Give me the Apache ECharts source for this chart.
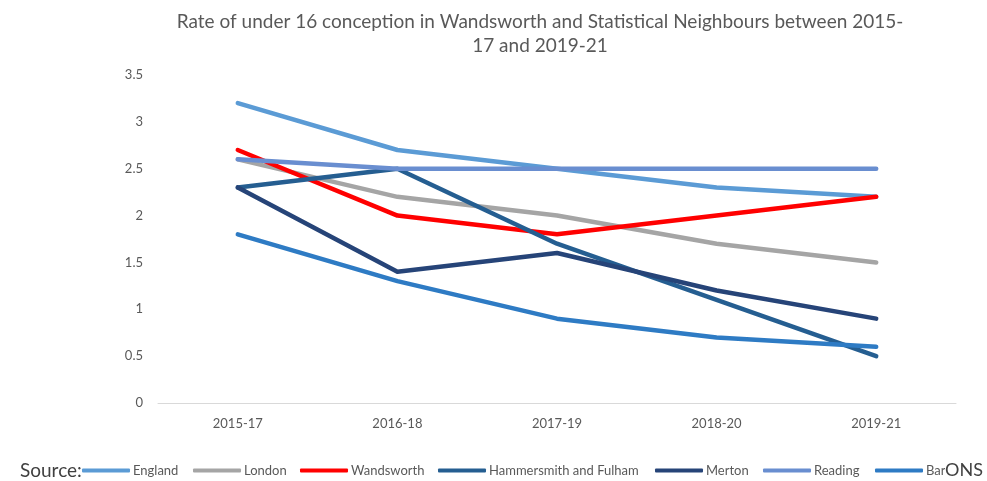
<!DOCTYPE html>
<html><head><meta charset="utf-8">
<script src="https://cdn.jsdelivr.net/npm/echarts@6/dist/echarts.min.js"></script>
<style>html,body{margin:0;padding:0;background:#fff}#c{width:987px;height:481px}</style>
</head><body><div id="c"></div>
<script>
const categories = ['2015-17','2016-18','2017-19','2018-20','2019-21'];
const england = [3.2, 2.7, 2.5, 2.3, 2.2];
const london = [2.6, 2.2, 2.0, 1.7, 1.5];
const wandsworth = [2.7, 2.0, 1.8, 2.0, 2.2];
const hammersmith = [2.3, 2.5, 1.7, 1.1, 0.5];
const merton = [2.3, 1.4, 1.6, 1.2, 0.9];
const reading = [2.6, 2.5, 2.5, 2.5, 2.5];
const barnet = [1.8, 1.3, 0.9, 0.7, 0.6];
const seriesNames = ['England','London','Wandsworth','Hammersmith and Fulham','Merton','Reading','Barnet'];
const yTicks = [0, 0.5, 1, 1.5, 2, 2.5, 3, 3.5];

const font = 'Lato, "Open Sans", sans-serif';
const legendLeft = [82, 193, 300, 438, 655, 763, 875];
const mk = (name, data, color) => ({
  name, type: 'line', data, symbol: 'none', smooth: false,
  lineStyle: { width: 4.5, color, cap: 'round', join: 'round' },
  itemStyle: { color }
});
const chart = echarts.init(document.getElementById('c'));
chart.setOption({
  animation: false,
  title: {
    text: 'Rate of under 16 conception in Wandsworth and Statistical Neighbours between 2015-\n17 and 2019-21',
    left: 535, textAlign: 'center', top: 5,
    textStyle: { fontFamily: font, fontSize: 19, fontWeight: 'normal', color: '#595959', lineHeight: 24 }
  },
  grid: { left: 158, right: 31, top: 75, bottom: 78, containLabel: false },
  xAxis: {
    type: 'category', data: categories, boundaryGap: true,
    axisLine: { lineStyle: { color: '#D9D9D9', width: 1 } },
    axisTick: { show: false },
    axisLabel: { color: '#595959', fontFamily: font, fontSize: 13, margin: 14 }
  },
  yAxis: {
    type: 'value', min: 0, max: 3.5, interval: 0.5,
    axisLine: { show: false }, axisTick: { show: false },
    splitLine: { show: false },
    axisLabel: { color: '#595959', fontFamily: font, fontSize: 13, margin: 15,
      formatter: v => yTicks.includes(v) ? String(v) : '' }
  },
  legend: seriesNames.map((n, i) => ({
    left: legendLeft[i], top: 464, itemWidth: 48, itemHeight: 4,
    icon: 'roundRect', padding: 0,
    textStyle: { color: '#595959', fontFamily: font, fontSize: 13, padding: [0, 0, 0, -2] },
    data: [n]
  })),
  graphic: [
    { type: 'text', left: 20, top: 461, style: { text: 'Source:', font: '19px ' + font, fill: '#404040' } },
    { type: 'text', left: 945, top: 461, z: 100, zlevel: 1, style: { text: 'ONS', font: '18px ' + font, fill: '#404040', backgroundColor: '#fff', padding: [0, 1, 0, 0] } }
  ],
  series: [
    mk('England', england, '#5B9BD5'),
    mk('London', london, '#A5A5A5'),
    mk('Wandsworth', wandsworth, '#FF0000'),
    mk('Hammersmith and Fulham', hammersmith, '#255E91'),
    mk('Merton', merton, '#264478'),
    mk('Reading', reading, '#698ED0'),
    mk('Barnet', barnet, '#2E7BC4')
  ]
});
</script></body></html>
